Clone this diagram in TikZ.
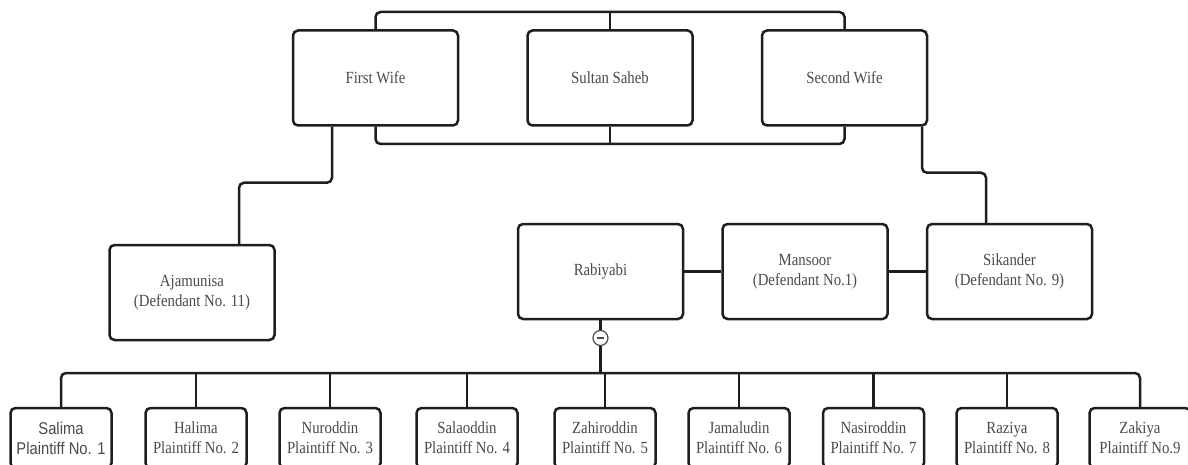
\documentclass[tikz,border=0pt]{standalone}
\usepackage{fontspec}
\setmainfont{Liberation Serif}
\newfontfamily\serifc[FakeStretch=0.87]{Liberation Serif}
\newfontfamily\sansc[FakeStretch=0.87]{Liberation Sans}
\usetikzlibrary{calc}
\definecolor{linec}{HTML}{1E1E1E}
\definecolor{textc}{HTML}{4A4A4A}
\tikzset{
 box/.style={draw=linec, line width=2.5pt, rounded corners=5pt, fill=white, text=textc,
   font=\serifc\fontsize{17}{20}\selectfont, align=center, inner sep=0pt},
 bigbox/.style={box, minimum width=165pt, minimum height=95pt},
 smallbox/.style={box, minimum width=101pt, minimum height=60pt},
 conn/.style={draw=linec, line width=2.5pt, rounded corners=5pt},
}
\begin{document}
\begin{tikzpicture}[x=1pt,y=-1pt]
\useasboundingbox (0,0) rectangle (1188,465);
\clip (0,0) rectangle (1188,465);
% top row
\node[bigbox] (fw) at (375.5,78) {First Wife};
\node[bigbox] (ss) at (610,78) {Sultan Saheb};
\node[bigbox] (sw) at (844.5,78) {Second Wife};
% middle row
\node[bigbox] (aj) at (192,292.5) {Ajamunisa\\(Defendant No. 11)};
\node[bigbox] (rab) at (600.5,271.5) {Rabiyabi};
\node[bigbox] (man) at (805,271.5) {Mansoor\\(Defendant No.1)};
\node[bigbox] (sik) at (1009.5,271.5) {Sikander\\(Defendant No. 9)};
% bottom row
\node[smallbox, font=\sansc\fontsize{17}{20}\selectfont] (b1) at (61,438) {Salima\\Plaintiff No. 1};
\node[smallbox] (b2) at (196,438) {Halima\\Plaintiff No. 2};
\node[smallbox] (b3) at (330,438) {Nuroddin\\Plaintiff No. 3};
\node[smallbox] (b4) at (467,438) {Salaoddin\\Plaintiff No. 4};
\node[smallbox] (b5) at (605,438) {Zahiroddin\\Plaintiff No. 5};
\node[smallbox] (b6) at (739,438) {Jamaludin\\Plaintiff No. 6};
\node[smallbox] (b7) at (873.5,438) {Nasiroddin\\Plaintiff No. 7};
\node[smallbox] (b8) at (1007,438) {Raziya\\Plaintiff No. 8};
\node[smallbox] (b9) at (1140,438) {Zakiya\\Plaintiff No.9};
% minus circle
\node[circle, draw=textc, line width=1.2pt, fill=white, minimum size=15pt, inner sep=0pt] (mn) at (600.5,338) {};
\draw[textc, line width=1.2pt] ($(mn.center)+(-3.5,0)$) -- ($(mn.center)+(3.5,0)$);
% bus coordinates
\coordinate (tbus) at (610,12);
\coordinate (bbus) at (610,144);
\coordinate (kbus) at (600,373);
% top connectors
\draw[conn] (fw.north) -- (fw.north |- tbus) -- (sw.north |- tbus) -- (sw.north);
\draw[conn] (ss.north) -- (ss.north |- tbus);
\draw[conn] (fw.south) -- (fw.south |- bbus) -- (sw.south |- bbus) -- (sw.south);
\draw[conn] (ss.south) -- (ss.south |- bbus);
% first wife -> Ajamunisa
\coordinate (fwo) at ($(fw.south)+(-43.5,0)$);
\coordinate (ajn) at ($(aj.north)+(47,0)$);
\draw[conn] (fwo) -- ++(0,56) -| (ajn);
% second wife -> Sikander
\coordinate (swo) at ($(sw.south)+(77.5,0)$);
\coordinate (sikn) at ($(sik.north)+(-23.5,0)$);
\draw[conn] (swo) -- ++(0,46) -| (sikn);
% siblings
\draw[conn] (rab.east) -- (man.west);
\draw[conn] (man.east) -- (sik.west);
% Rabiyabi -> children
\draw[conn] (rab.south) -- (mn.north);
\draw[conn] (mn.south) -- (mn.south |- kbus);
\draw[conn] (b1.north) -- (b1.north |- kbus) -- (b9.north |- kbus) -- (b9.north);
\foreach \b in {b2,b3,b4,b5,b6,b7,b8}{
  \draw[conn] (\b.north) -- (\b.north |- kbus);
}
\end{tikzpicture}
\end{document}
